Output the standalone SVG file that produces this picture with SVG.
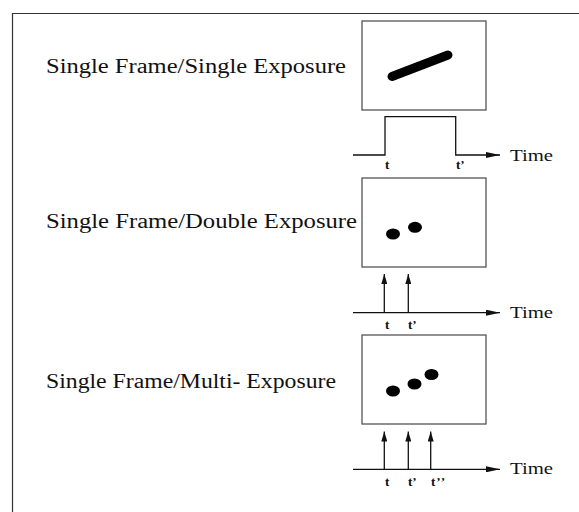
<svg xmlns="http://www.w3.org/2000/svg" width="579" height="512" viewBox="0 0 579 512">
<defs>
<style>
.frame{fill:none;stroke:#333;stroke-width:1.2}
.box{fill:#fff;stroke:#555;stroke-width:1.3}
.ln{fill:none;stroke:#111;stroke-width:1.3}
.lbl{font-family:"Liberation Serif","Times New Roman",serif;font-size:20px;fill:#111}
.time{font-family:"Liberation Serif","Times New Roman",serif;font-size:17px;fill:#111}
.tk{font-family:"Liberation Serif","Times New Roman",serif;font-size:13px;font-weight:bold;fill:#111}
.dot{fill:#000}
</style>
<marker id="ah" viewBox="0 0 10 6" refX="10" refY="3" markerWidth="10" markerHeight="6" markerUnits="userSpaceOnUse" orient="auto">
<path d="M0,0 L10,3 L0,6 Z" fill="#111"/>
</marker>
<marker id="aw" viewBox="0 0 14 6" refX="14" refY="3" markerWidth="14" markerHeight="6" markerUnits="userSpaceOnUse" orient="auto">
<path d="M0,0 L14,3 L0,6 Z" fill="#111"/>
</marker>
</defs>
<rect width="579" height="512" fill="#fff"/>
<path class="frame" d="M12.5,600 V13.5 H600"/>

<g id="row1">
<text class="lbl" x="46" y="73" textLength="300" lengthAdjust="spacingAndGlyphs">Single Frame/Single Exposure</text>
<rect class="box" x="362" y="21" width="124" height="89"/>
<line x1="392" y1="76.5" x2="448" y2="55" stroke="#000" stroke-width="9" stroke-linecap="round"/>
</g>

<g id="row2">
<text class="lbl" x="46" y="228" textLength="311" lengthAdjust="spacingAndGlyphs">Single Frame/Double Exposure</text>
<rect class="box" x="362" y="178" width="124" height="89"/>
<ellipse class="dot" cx="393" cy="234" rx="7" ry="5.5"/>
<ellipse class="dot" cx="415" cy="227.3" rx="7" ry="5.5"/>
</g>

<g id="row3">
<text class="lbl" x="46" y="388" textLength="290" lengthAdjust="spacingAndGlyphs">Single Frame/Multi- Exposure</text>
<rect class="box" x="362" y="335" width="124" height="89"/>
<ellipse class="dot" cx="393" cy="391" rx="7" ry="5.5"/>
<ellipse class="dot" cx="414.5" cy="384" rx="7" ry="5.5"/>
<ellipse class="dot" cx="431.5" cy="374.5" rx="7" ry="5.5"/>
</g>

<g id="connectors">
<path class="ln" d="M353,155 H385 V116.7 H455.7 V155 H500" marker-end="url(#aw)"/>
<line class="ln" x1="353" y1="312.7" x2="500" y2="312.7" marker-end="url(#aw)"/>
<line class="ln" x1="384.3" y1="312.7" x2="384.3" y2="274" marker-end="url(#ah)"/>
<line class="ln" x1="408.3" y1="312.7" x2="408.3" y2="274" marker-end="url(#ah)"/>
<line class="ln" x1="353" y1="469.3" x2="500" y2="469.3" marker-end="url(#aw)"/>
<line class="ln" x1="384.3" y1="469.3" x2="384.3" y2="431.5" marker-end="url(#ah)"/>
<line class="ln" x1="408.3" y1="469.3" x2="408.3" y2="431.5" marker-end="url(#ah)"/>
<line class="ln" x1="430.7" y1="469.3" x2="430.7" y2="431.5" marker-end="url(#ah)"/>
</g>

<g id="axis-labels">
<text class="time" x="510" y="161" textLength="43" lengthAdjust="spacingAndGlyphs">Time</text>
<text class="tk" x="385" y="169">t</text>
<text class="tk" x="456" y="169">t’</text>
<text class="time" x="510" y="318" textLength="43" lengthAdjust="spacingAndGlyphs">Time</text>
<text class="tk" x="385" y="329">t</text>
<text class="tk" x="408" y="329">t’</text>
<text class="time" x="510" y="474" textLength="43" lengthAdjust="spacingAndGlyphs">Time</text>
<text class="tk" x="385" y="486">t</text>
<text class="tk" x="408" y="486">t’</text>
<text class="tk" x="431" y="486" letter-spacing="1">t’’</text>
</g>
</svg>
